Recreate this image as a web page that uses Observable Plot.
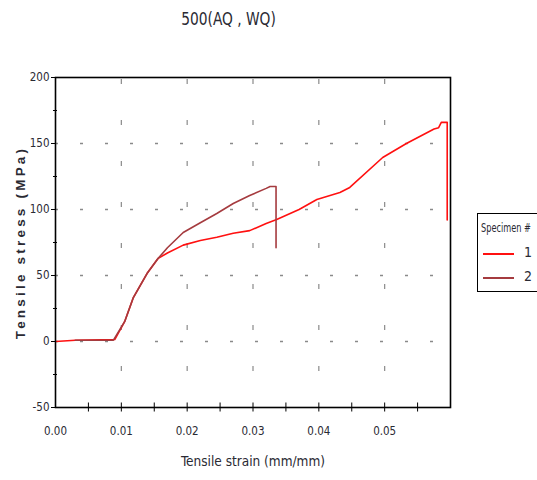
<!DOCTYPE html>
<html><head><meta charset="utf-8">
<script src="https://cdn.jsdelivr.net/npm/d3@7"></script>
<script src="https://cdn.jsdelivr.net/npm/@observablehq/plot@0.6"></script>
<style>
body{margin:0;background:#fff;}
#wrap{position:relative;width:537px;height:480px;overflow:hidden;font-family:"Liberation Sans Narrow","DejaVu Sans Condensed","Liberation Sans",sans-serif;color:#2a2a33;}
#chart{position:absolute;left:0;top:0;}
#title{position:absolute;left:0;width:458px;top:9px;text-align:center;font-size:17px;}
#title span{display:inline-block;transform:scaleX(0.9);}
#legend{position:absolute;left:477px;top:213px;width:90px;height:77px;border:1.6px solid #000;background:#fff;}
#legend .t{position:absolute;left:3px;top:7px;font-size:12px;white-space:nowrap;transform:scaleX(0.76);transform-origin:left center;}
#legend .ln{position:absolute;left:5px;width:31px;height:0;border-top:2px solid;}
#legend .lb{position:absolute;left:46px;font-size:14px;}
</style></head><body>
<div id="wrap"><div id="chart"></div><div id="title"></div><div id="legend"></div></div>
<script>
const seriesNames = ["1", "2"];
const seriesColors = ["#ff1010", "#a53b3f"];
const strain1 = [0, 0.003, 0.009, 0.0105, 0.0118, 0.0139, 0.0156, 0.017, 0.0194, 0.022, 0.0245, 0.027, 0.0295, 0.032, 0.0336, 0.037, 0.0397, 0.0432, 0.0447, 0.0497, 0.0533, 0.0575, 0.0582, 0.0586, 0.0595, 0.0595];
const stress1 = [0, 1, 1.5, 15, 33, 51.5, 63, 67, 73, 76.5, 79, 82, 84, 89.4, 92.4, 100, 107.6, 112.9, 116.7, 139.4, 150, 161, 162, 166, 166, 92];
const strain2 = [0.003, 0.0088, 0.0105, 0.0118, 0.0139, 0.0156, 0.017, 0.0194, 0.022, 0.0245, 0.027, 0.0295, 0.032, 0.0326, 0.0335, 0.0335];
const stress2 = [1, 1, 15, 33, 51.5, 63, 71, 82.6, 90, 97, 104.5, 110.6, 116, 117.4, 117.4, 71];
const yMajor = [-50, 0, 50, 100, 150, 200];
const yMinor = [-25, 25, 75, 125, 175];
const yGrid = [0, 50, 100, 150];
const xLabels = [0, 0.01, 0.02, 0.03, 0.04, 0.05];
const xTicks = [0.005, 0.01, 0.015, 0.02, 0.025, 0.03, 0.035, 0.04, 0.045, 0.05, 0.055];
const xGrid = [0.01, 0.02, 0.03, 0.04, 0.05];
const title = "500(AQ , WQ)";
const xLabel = "Tensile strain (mm/mm)";
const yLabel = "Tensile stress (MPa)";
const legendTitle = "Specimen #";

const rows = [];
strain1.forEach((x, i) => rows.push({s: seriesNames[0], x, y: stress1[i]}));
strain2.forEach((x, i) => rows.push({s: seriesNames[1], x, y: stress2[i]}));

const font = "'Liberation Sans Narrow','DejaVu Sans Condensed',sans-serif";
const svg = Plot.plot({
  width: 537, height: 480,
  marginLeft: 55, marginRight: 87, marginTop: 77, marginBottom: 73,
  style: {fontFamily: font, fontSize: "12px", color: "#2a2a33", background: "transparent"},
  x: {domain: [0, 0.06]},
  y: {domain: [-50, 200]},
  color: {domain: seriesNames, range: seriesColors},
  marks: [
    Plot.ruleY(yGrid, {stroke: "#8a8a8a", strokeWidth: 1.5, strokeDasharray: "3,22"}),
    Plot.ruleX(xGrid, {stroke: "#8a8a8a", strokeWidth: 1.2, strokeDasharray: "5,36", strokeDashoffset: -2}),
    Plot.line(rows, {x: "x", y: "y", z: "s", stroke: "s", strokeWidth: 1.6, curve: "linear"}),
    Plot.frame({stroke: "#000", strokeWidth: 1.6}),
    Plot.axisY({ticks: yMajor, tickSize: 4, tickPadding: 2, tickFormat: d => String(d), fontSize: 11.5, label: null, stroke: "#000"}),
    Plot.axisY({ticks: yMinor, tickSize: 4, dx: 2, text: null, label: null, stroke: "#000"}),
    Plot.axisX({ticks: xTicks, tickSize: 9, dy: -4.5, text: null, label: null, stroke: "#000"}),
    Plot.axisX({ticks: xLabels, tickSize: 0, tickPadding: 19, tickFormat: d3.format(".2f"), fontSize: 11.5, label: null}),
    Plot.text([xLabel], {frameAnchor: "bottom", dy: 58, fontSize: 13.5, fill: "#2a2a33"}),
    Plot.text([yLabel], {frameAnchor: "left", dx: -35, rotate: -90, textAnchor: "middle", fontSize: 13.5, fontWeight: "bold", fill: "#2a2a33", fontFamily: "'Liberation Sans',sans-serif"})
  ]
});
document.getElementById("chart").appendChild(svg);
svg.querySelectorAll("text").forEach(t => { if (t.textContent === yLabel) t.setAttribute("letter-spacing", "3.2"); });

document.getElementById("title").innerHTML = `<span>${title}</span>`;
const lg = document.getElementById("legend");
lg.innerHTML = `<div class="t">${legendTitle}</div>` + seriesNames.map((n, i) =>
  `<div class="ln" style="top:${39 + i*24}px;border-color:${seriesColors[i]}"></div><div class="lb" style="top:${30 + i*24}px">${n}</div>`).join("");
</script>
</body></html>
